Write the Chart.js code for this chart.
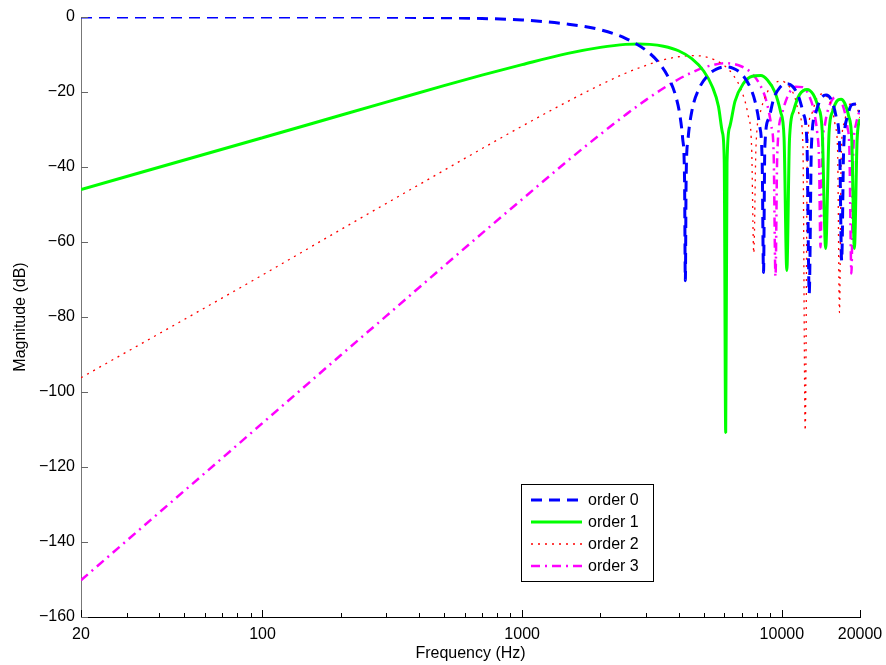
<!DOCTYPE html>
<html>
<head>
<meta charset="utf-8">
<script src="https://cdn.jsdelivr.net/npm/chart.js@4.4.1/dist/chart.umd.min.js"></script>
<style>
  html, body { margin: 0; padding: 0; background: #fff; }
  canvas { display: block; }
</style>
</head>
<body>
<canvas id="myChart" width="886" height="665"></canvas>
<script>
// values (dB vs Hz)
const freq0 = [20, 200, 500, 700, 1000, 1500, 2000, 2500, 3000, 3400, 3700, 3900, 4050, 4150, 4220, 4250, 4280, 4350, 4500, 4800, 5200, 5600, 6050, 6500, 7000, 7500, 7900, 8200, 8400, 8500, 8600, 8900, 9300, 9800, 10450, 11000, 11600, 12100, 12500, 12750, 13000, 13500, 14100, 14800, 15500, 16200, 16700, 17000, 17300, 17900, 18600, 19300, 20000];
const mag0 = [0, 0, -0.2, -0.4, -0.8, -1.9, -3.4, -5.7, -8.9, -12.6, -16.8, -21.0, -26.2, -32.4, -43.0, -70.3, -43.1, -32.8, -25.2, -19.1, -15.5, -13.9, -13.3, -13.7, -15.2, -18.3, -22.7, -28.8, -38.5, -68.1, -34.8, -27.1, -21.8, -18.9, -17.8, -18.5, -21.2, -25.7, -34.0, -73.7, -34.4, -25.6, -21.9, -20.8, -22.1, -26.7, -35.0, -65.0, -35.3, -26.6, -23.4, -23.2, -25.4];

const freq1 = [20, 100, 200, 300, 500, 700, 1000, 1500, 2000, 2500, 2800, 3100, 3500, 4000, 4500, 5000, 5400, 5700, 5900, 6000, 6079, 6150, 6300, 6600, 7100, 7700, 8300, 8800, 9400, 9900, 10200, 10451, 10700, 11100, 11700, 12500, 13200, 13800, 14300, 14751, 15200, 15700, 16300, 16900, 17500, 18100, 18600, 19029, 19500, 20000];
const mag1 = [-46.0, -32.2, -26.2, -22.7, -18.3, -15.5, -12.7, -9.7, -8.1, -7.3, -7.2, -7.3, -7.8, -9.0, -11.1, -14.4, -18.6, -23.8, -30.7, -37.9, -110.8, -38.8, -29.3, -22.5, -17.8, -15.8, -15.6, -16.8, -20.0, -25.4, -32.3, -67.6, -32.8, -25.0, -20.7, -19.3, -20.6, -24.0, -30.2, -61.7, -30.8, -25.1, -22.4, -21.9, -23.1, -26.5, -32.9, -61.7, -32.5, -27.1];

const freq2 = [20, 100, 200, 300, 500, 700, 1000, 1500, 2000, 2500, 3000, 3500, 4000, 4500, 5000, 5500, 6000, 6500, 7000, 7400, 7650, 7797, 7950, 8300, 8800, 9400, 10000, 10600, 11200, 11700, 12050, 12304, 12550, 13000, 13600, 14300, 15000, 15600, 16100, 16400, 16670, 16950, 17400, 18000, 18800, 19400, 20000];
const mag2 = [-96.2, -68.8, -56.7, -49.7, -40.9, -35.1, -29.1, -22.5, -18.1, -15.0, -12.9, -11.4, -10.6, -10.3, -10.5, -11.4, -12.9, -15.5, -19.7, -25.9, -34.8, -63.0, -34.7, -24.9, -20.0, -17.6, -17.1, -18.3, -21.2, -26.2, -33.7, -110.3, -34.4, -26.0, -21.9, -20.5, -21.4, -24.3, -29.4, -35.8, -78.8, -35.8, -28.1, -24.1, -22.8, -23.8, -26.9];

const freq3 = [20, 100, 200, 300, 500, 700, 1000, 1500, 2000, 2500, 3000, 3500, 4000, 4500, 5000, 5500, 6000, 6500, 7000, 7600, 8200, 8700, 9100, 9300, 9453, 9600, 10000, 10600, 11300, 12000, 12700, 13300, 13700, 13900, 14092, 14300, 14700, 15300, 16000, 16700, 17400, 17900, 18200, 18531, 18850, 19300, 20000];
const mag3 = [-150.2, -108.3, -90.2, -79.7, -66.4, -57.7, -48.6, -38.3, -31.3, -26.1, -22.1, -19.0, -16.6, -14.8, -13.5, -12.7, -12.3, -12.5, -13.2, -14.8, -17.8, -22.2, -28.9, -36.3, -69.2, -36.9, -26.0, -20.7, -18.6, -18.7, -20.8, -25.2, -31.2, -37.5, -61.4, -37.1, -28.2, -23.4, -21.5, -22.0, -24.9, -29.5, -35.0, -68.4, -35.6, -28.6, -24.5];

const seriesNames = ['order 0', 'order 1', 'order 2', 'order 3'];

const xMajorTicks = [20, 100, 1000, 10000, 20000];
const xMinorTicks = [30, 40, 50, 60, 70, 80, 90, 200, 300, 400, 500, 600, 700, 800, 900,
                     2000, 3000, 4000, 5000, 6000, 7000, 8000, 9000];
const yTicks = [0, -20, -40, -60, -80, -100, -120, -140, -160];

const pts = (f, m) => f.map((v, i) => ({ x: v, y: m[i] }));
const FONT = '"Liberation Sans", Arial, Helvetica, sans-serif';
Chart.defaults.font.family = FONT;
Chart.defaults.color = '#000';

// MATLAB-style ticks that point into the axes
const innerTicks = {
  id: 'innerTicks',
  afterDatasetsDraw(chart) {
    const { ctx, chartArea: a, scales: { x, y } } = chart;
    ctx.save();
    ctx.lineWidth = 1;
    ctx.strokeStyle = '#000';
    ctx.beginPath();
    x.ticks.forEach(t => {
      const px = Math.round(x.getPixelForValue(t.value)) + 0.5;
      const len = xMajorTicks.includes(t.value) ? 7 : 4;
      ctx.moveTo(px, a.bottom);
      ctx.lineTo(px, a.bottom - len);
    });
    ctx.stroke();
    ctx.strokeStyle = '#666';
    ctx.beginPath();
    y.ticks.forEach(t => {
      const py = Math.round(y.getPixelForValue(t.value)) + 0.5;
      ctx.moveTo(a.left, py);
      ctx.lineTo(a.left + 7, py);
    });
    ctx.stroke();
    ctx.restore();
  }
};

// boxed legend inside the axes, like the original figure
const legendBox = {
  id: 'legendBox',
  afterDraw(chart) {
    const ctx = chart.ctx;
    const box = { x: 521, y: 484, w: 132, h: 97, row: 22 };
    ctx.save();
    ctx.fillStyle = '#fff';
    ctx.fillRect(box.x, box.y, box.w, box.h);
    ctx.strokeStyle = '#000';
    ctx.lineWidth = 1;
    ctx.strokeRect(box.x + 0.5, box.y + 0.5, box.w, box.h);
    chart.data.datasets.forEach((ds, i) => {
      const cy = box.y + 16 + i * box.row;
      ctx.strokeStyle = ds.borderColor;
      ctx.lineWidth = ds.borderWidth;
      ctx.setLineDash(ds.borderDash || []);
      ctx.beginPath();
      ctx.moveTo(box.x + 10, cy);
      ctx.lineTo(box.x + 61, cy);
      ctx.stroke();
      ctx.setLineDash([]);
      ctx.fillStyle = '#000';
      ctx.font = '16px ' + FONT;
      ctx.textBaseline = 'middle';
      ctx.fillText(ds.label, box.x + 67, cy + 1);
    });
    ctx.restore();
  }
};

const ctx = document.getElementById('myChart').getContext('2d');

new Chart(ctx, {
  type: 'line',
  data: {
    datasets: [
      {
        label: seriesNames[0],
        data: pts(freq0, mag0),
        borderColor: '#0000ff',
        borderWidth: 3,
        borderDash: [11, 7]
      },
      {
        label: seriesNames[1],
        data: pts(freq1, mag1),
        borderColor: '#00ff00',
        borderWidth: 3
      },
      {
        label: seriesNames[2],
        data: pts(freq2, mag2),
        borderColor: '#ff0000',
        borderWidth: 1.3,
        borderDash: [2, 5]
      },
      {
        label: seriesNames[3],
        data: pts(freq3, mag3),
        borderColor: '#ff00ff',
        borderWidth: 2.5,
        borderDash: [9, 5, 2, 5]
      }
    ]
  },
  options: {
    responsive: false,
    animation: false,
    devicePixelRatio: 1,
    layout: {
      padding: { top: 17, right: 26, left: 0, bottom: 0 }
    },
    elements: {
      point: { radius: 0 },
      line: { cubicInterpolationMode: 'monotone', borderJoinStyle: 'bevel', fill: false }
    },
    plugins: {
      legend: { display: false },
      tooltip: { enabled: false }
    },
    scales: {
      x: {
        type: 'logarithmic',
        min: 20,
        max: 20000,
        afterBuildTicks: scale => {
          scale.ticks = xMajorTicks.concat(xMinorTicks).sort((a, b) => a - b).map(v => ({ value: v }));
        },
        afterFit: scale => {
          scale.height = 48;
          scale.paddingLeft = 0;
          scale.paddingRight = 0;
        },
        ticks: {
          autoSkip: false,
          maxRotation: 0,
          padding: 8,
          font: { size: 16 },
          color: '#000',
          callback: v => xMajorTicks.includes(v) ? String(v) : ''
        },
        grid: { drawOnChartArea: false, drawTicks: false },
        border: { display: true, color: '#000', width: 1 },
        title: {
          display: true,
          text: 'Frequency (Hz)',
          font: { size: 16 },
          padding: { top: 0, bottom: 2 }
        }
      },
      y: {
        min: -160,
        max: 0,
        afterBuildTicks: scale => {
          scale.ticks = yTicks.map(v => ({ value: v }));
        },
        afterFit: scale => { scale.width = 81; },
        ticks: {
          padding: 6,
          font: { size: 16 },
          color: '#000',
          callback: v => v < 0 ? '\u2212' + (-v) : String(v)
        },
        grid: { drawOnChartArea: false, drawTicks: false },
        border: { display: true, color: '#777', width: 1 },
        title: {
          display: true,
          text: 'Magnitude (dB)',
          font: { size: 16 },
          padding: { top: 11, bottom: 0 }
        }
      }
    }
  },
  plugins: [innerTicks, legendBox]
});
</script>
</body>
</html>
